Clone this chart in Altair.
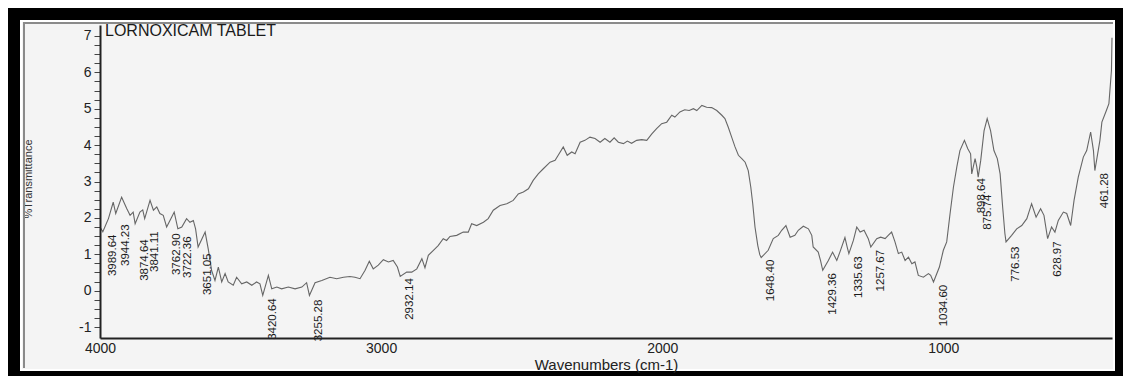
import altair as alt
import pandas as pd

FONT = "Liberation Sans, Arial, sans-serif"

# FT-IR spectrum, wavenumber (cm-1) against %Transmittance
wavenumber = [
    4000, 3990, 3970, 3953, 3944, 3923, 3905, 3893, 3882, 3875, 3858, 3848, 3841,
    3822, 3810, 3798, 3787, 3775, 3763, 3747, 3736, 3723, 3709, 3692, 3680, 3668,
    3660, 3651, 3626, 3615, 3603, 3591, 3579, 3567, 3555, 3544, 3526, 3514, 3496,
    3478, 3460, 3443, 3431, 3421, 3401, 3389, 3371, 3354, 3330, 3306, 3282, 3265,
    3255, 3235, 3211, 3182, 3158, 3134, 3111, 3093, 3075, 3057, 3042, 3028, 3010,
    2992, 2974, 2957, 2942, 2932, 2909, 2891, 2873, 2855, 2844, 2832, 2814, 2797,
    2779, 2767, 2755, 2731, 2708, 2690, 2678, 2660, 2636, 2619, 2601, 2577, 2553,
    2530, 2512, 2494, 2476, 2459, 2441, 2423, 2399, 2381, 2370, 2352, 2338, 2322,
    2310, 2292, 2275, 2257, 2239, 2221, 2204, 2186, 2171, 2156, 2138, 2124, 2109,
    2091, 2073, 2055, 2037, 2020, 2002, 1984, 1966, 1955, 1937, 1920, 1904, 1889,
    1877, 1859, 1842, 1824, 1806, 1788, 1777, 1765, 1753, 1741, 1729, 1717, 1705,
    1694, 1685, 1678, 1670, 1660, 1653, 1648, 1623, 1605, 1587, 1575, 1560, 1545,
    1528, 1516, 1498, 1480, 1468, 1463, 1445, 1437, 1429, 1409, 1394, 1379, 1368,
    1350, 1342, 1336, 1320, 1308, 1296, 1282, 1267, 1258, 1237, 1223, 1207, 1196,
    1184, 1172, 1160, 1148, 1136, 1124, 1112, 1101, 1089, 1071, 1053, 1045, 1035,
    1014, 1000, 988, 976, 964, 952, 941, 925, 913, 903, 899, 887, 881, 876, 867,
    855, 844, 832, 820, 808, 798, 789, 781, 777, 757, 739, 721, 703, 686, 670, 654,
    642, 629, 615, 603, 591, 573, 561, 547, 535, 520, 502, 490, 476, 466, 461, 443,
    436, 420, 411, 402, 400,
]
transmittance = [
    1.75, 1.62, 1.98, 2.43, 2.12, 2.57, 2.26, 2.07, 2.16, 1.84, 2.16, 2.22, 1.98,
    2.48, 2.21, 2.30, 2.12, 2.07, 1.75, 1.99, 2.16, 1.70, 1.75, 1.98, 1.88, 1.93,
    1.70, 1.20, 1.61, 1.15, 0.56, 0.28, 0.65, 0.24, 0.47, 0.24, 0.15, 0.37, 0.19,
    0.24, 0.15, 0.24, 0.19, -0.13, 0.42, 0.05, 0.10, 0.05, 0.10, 0.05, 0.10, 0.22,
    -0.13, 0.22, 0.28, 0.37, 0.33, 0.37, 0.39, 0.37, 0.33, 0.56, 0.81, 0.60, 0.70,
    0.85, 0.79, 0.83, 0.65, 0.39, 0.51, 0.51, 0.60, 0.88, 0.63, 0.97, 1.11, 1.24,
    1.43, 1.38, 1.49, 1.52, 1.61, 1.61, 1.84, 1.79, 1.88, 1.98, 2.21, 2.34, 2.39,
    2.48, 2.66, 2.71, 2.80, 3.03, 3.21, 3.35, 3.53, 3.58, 3.72, 3.95, 3.72, 3.81,
    3.76, 4.08, 4.13, 4.22, 4.18, 4.08, 4.18, 4.08, 4.20, 4.08, 4.04, 4.11, 4.05,
    4.13, 4.15, 4.13, 4.31, 4.45, 4.59, 4.63, 4.82, 4.77, 4.91, 4.97, 4.95, 5.00,
    4.95, 5.09, 5.04, 5.03, 4.95, 4.82, 4.73, 4.49, 4.22, 3.95, 3.72, 3.63, 3.53,
    3.30, 2.85, 2.39, 1.75, 1.24, 0.99, 0.91, 1.11, 1.43, 1.52, 1.66, 1.79, 1.47,
    1.52, 1.66, 1.77, 1.70, 1.52, 1.20, 1.06, 0.83, 0.56, 0.83, 1.06, 0.83, 1.06,
    1.46, 1.20, 1.02, 1.38, 1.75, 1.61, 1.66, 1.43, 1.20, 1.43, 1.47, 1.43, 1.52,
    1.61, 1.34, 1.02, 1.06, 0.83, 0.92, 0.74, 0.79, 0.42, 0.37, 0.47, 0.42, 0.24,
    0.65, 1.11, 1.34, 2.12, 2.85, 3.40, 3.85, 4.13, 3.90, 3.76, 3.21, 3.63, 3.40, 3.12, 3.58,
    4.40, 4.73, 4.40, 3.85, 3.63, 3.21, 2.30, 1.57, 1.34, 1.52, 1.70, 1.79, 1.98, 2.39, 2.02, 2.25,
    2.07, 1.43, 1.75, 1.61, 1.93, 2.16, 2.12, 1.79, 2.48, 3.12, 3.67, 3.85, 4.36, 3.85, 3.30, 4.13,
    4.63, 4.95, 5.14, 6.05, 6.95,
]

# Picked peaks: wavenumber and the transmittance where each label ends
peak_wavenumber = [
    3989.64, 3944.23, 3874.64, 3841.11, 3762.90, 3722.36, 3651.05, 3420.64,
    3255.28, 2932.14, 1648.40, 1429.36, 1335.63, 1257.67, 1034.60, 898.64,
    875.74, 776.53, 628.97, 461.28,
]
peak_transmittance = [
    1.57, 1.85, 1.44, 1.66, 1.60, 1.52, 1.05, -0.18,
    -0.22, 0.37, 0.88, 0.51, 0.97, 1.15, 0.19, 3.12,
    2.67, 1.24, 1.38, 3.26,
]

x_ticks = [4000, 3000, 2000, 1000]
y_ticks = [k / 4 for k in range(-4, 29)]

spectrum = pd.DataFrame({"wn": wavenumber, "t": transmittance})
peaks = pd.DataFrame({
    "wn": peak_wavenumber,
    "t": peak_transmittance,
    "label": [f"{w:.2f}" for w in peak_wavenumber],
})
one = alt.Data(values=[{"k": 0}])

x_scale = alt.Scale(domain=[4000, 400], nice=False, zero=False)
y_scale = alt.Scale(domain=[-1.3, 7.3], nice=False, zero=False)

x_axis = alt.Axis(
    values=x_ticks, format="d", title="Wavenumbers (cm-1)",
    ticks=False, tickSize=0, labelPadding=3, labelFlush=False,
    labelFont=FONT, labelFontSize=14, labelColor="#222",
    titleFont=FONT, titleFontSize=15, titleFontWeight="normal",
    titleColor="#222", titleY=26, titleBaseline="middle",
    domainColor="#222", domainWidth=2, grid=False, zindex=1,
)
y_axis = alt.Axis(
    values=y_ticks,
    labelExpr="datum.value % 1 === 0 ? '' + datum.value : ''",
    tickSize=6, tickWidth=1, tickColor="#444",
    labelFont=FONT, labelFontSize=14, labelColor="#222", labelPadding=3,
    labelOverlap=False, domainColor="#222", domainWidth=2,
    grid=False, title=None, zindex=1,
)

paper = alt.Chart(one).mark_rect(fill="#f4f4f4").encode(
    x=alt.value(-80), x2=alt.value(1014), y=alt.value(-5), y2=alt.value(345)
)

line = alt.Chart(spectrum).mark_line(color="#666666", strokeWidth=1.1).encode(
    x=alt.X("wn:Q", scale=x_scale, axis=x_axis),
    y=alt.Y("t:Q", scale=y_scale, axis=y_axis),
)

labels = alt.Chart(peaks).mark_text(
    angle=270, align="right", baseline="middle", dy=10, dx=-1,
    font=FONT, fontSize=11.5, color="#1a1a1a",
).encode(
    x=alt.X("wn:Q", scale=x_scale, axis=x_axis),
    y=alt.Y("t:Q", scale=y_scale, axis=y_axis),
    text="label:N",
)

title = alt.Chart(one).mark_text(
    text="LORNOXICAM TABLET", align="left", baseline="middle",
    font=FONT, fontSize=16, color="#1a1a1a",
).encode(x=alt.value(5), y=alt.value(6))

y_title = alt.Chart(one).mark_text(
    text="%Transmittance", angle=270, align="center", baseline="middle",
    font=FONT, fontSize=11, color="#333",
).encode(x=alt.value(-71), y=alt.value(154))

frame = alt.Chart(one).mark_rect(fillOpacity=0, stroke="black", strokeWidth=12).encode(
    x=alt.value(-86), x2=alt.value(1021), y=alt.value(-11), y2=alt.value(352)
)
inner_white = alt.Chart(one).mark_rect(fillOpacity=0, stroke="white", strokeWidth=2).encode(
    x=alt.value(-79), x2=alt.value(1014), y=alt.value(-4), y2=alt.value(345)
)
left_shade = alt.Chart(one).mark_rule(color="#8a8a8a", strokeWidth=2).encode(
    x=alt.value(-76), y=alt.value(-3), y2=alt.value(343)
)
top_shade = alt.Chart(one).mark_rule(color="#8a8a8a", strokeWidth=2).encode(
    y=alt.value(-2), x=alt.value(-77), x2=alt.value(1013)
)

chart = alt.layer(
    paper, line, labels, title, y_title, frame, inner_white, left_shade, top_shade
).properties(
    width=1012,
    height=313,
    padding={"left": 100, "top": 25, "right": 11, "bottom": 38},
    autosize=alt.AutoSizeParams(type="none"),
    background="white",
).configure_view(stroke=None)

chart.save("out.html", embed_options={"renderer": "svg", "actions": False})
